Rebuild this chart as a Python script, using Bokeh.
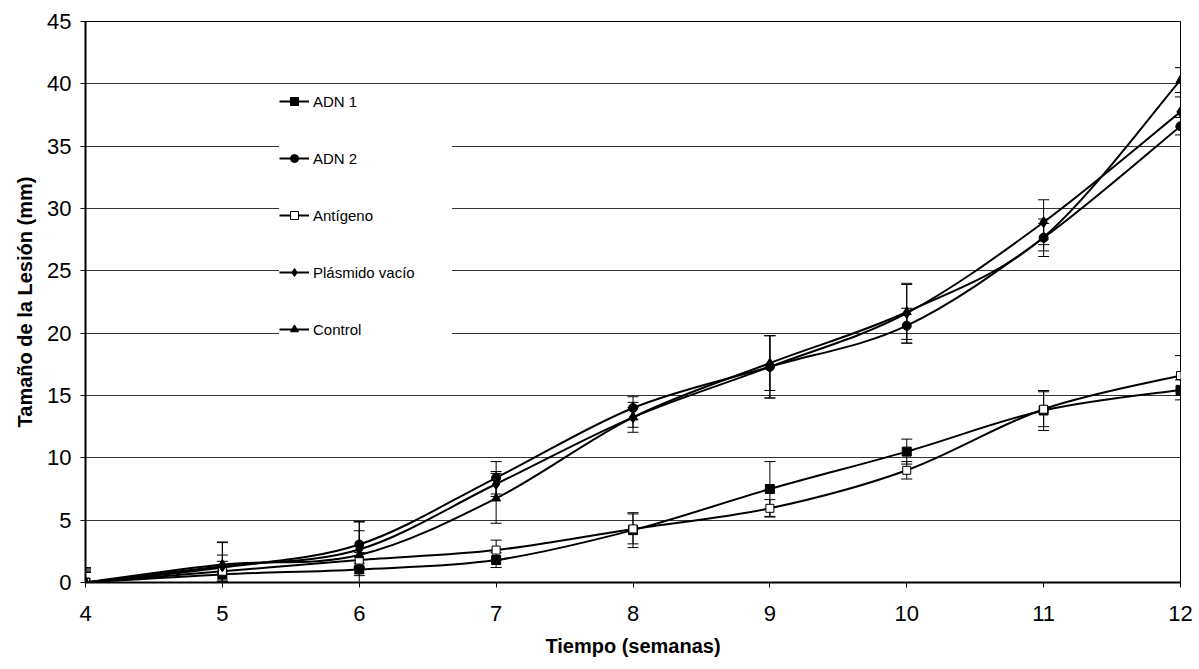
import numpy as np
from bokeh.plotting import figure
from bokeh.models import (ColumnDataSource, Whisker, TeeHead, Legend, LegendItem,
                          FixedTicker, Range1d)
from bokeh.embed import file_html
from bokeh.resources import INLINE

weeks = [4, 5, 6, 7, 8, 9, 10, 11, 12]
adn1 = [0, 0.65, 1.05, 1.8, 4.2, 7.5, 10.5, 13.8, 15.45]
adn2 = [0, 1.2, 3.05, 8.4, 14.0, 17.3, 20.6, 27.65, 36.6]
antigeno = [0, 0.9, 1.8, 2.6, 4.3, 5.95, 9.0, 13.9, 16.6]
plasmido = [0, 1.3, 2.65, 7.9, 13.25, 17.3, 21.6, 28.9, 37.75]
control = [0, 1.45, 2.2, 6.75, 13.25, 17.6, 21.7, 27.7, 40.3]

adn1_err = [1.0, 0.6, 0.5, 0.6, 1.4, 2.2, 1.0, 1.6, 0.8]
adn2_err = [0.9, 1.0, 1.8, 1.3, 0.9, 2.5, 1.4, 1.5, 0.7]
antigeno_err = [1.1, 0.8, 0.6, 0.8, 1.2, 0.7, 0.7, 1.4, 1.6]
plasmido_err = [0.8, 1.9, 1.5, 1.0, 0.8, 2.5, 2.4, 1.8, 1.2]
control_err = [1.2, 1.8, 2.7, 2.0, 1.2, 2.2, 2.2, 1.1, 1.0]

series = [
    ("ADN 1", adn1, adn1_err, "square", "black", 9),
    ("ADN 2", adn2, adn2_err, "circle", "black", 9),
    ("Antígeno", antigeno, antigeno_err, "square", "white", 8),
    ("Plásmido vacío", plasmido, plasmido_err, "diamond", "black", 11),
    ("Control", control, control_err, "triangle", "black", 9),
]

FONT = "Liberation Sans"

p = figure(width=1195, height=668, output_backend="svg", toolbar_location=None,
           x_range=Range1d(4, 12), y_range=Range1d(0, 45),
           min_border_left=85, min_border_right=15, min_border_top=21, min_border_bottom=86)
p.outline_line_color = "black"
p.outline_line_width = 1
p.background_fill_color = "white"
p.border_fill_color = "white"

p.xaxis.ticker = FixedTicker(ticks=weeks)
p.yaxis.ticker = FixedTicker(ticks=list(range(0, 46, 5)))
p.xgrid.visible = False
p.ygrid.grid_line_color = "#333333"
p.ygrid.grid_line_width = 1
for ax in (p.xaxis[0], p.yaxis[0]):
    ax.axis_line_color = "black"
    ax.axis_line_width = 2
    ax.major_tick_line_color = "black"
    ax.major_tick_line_width = 1
    ax.major_tick_out = 5
    ax.major_tick_in = 0
    ax.minor_tick_line_color = None
    ax.major_label_text_font = FONT
    ax.major_label_text_font_size = "22px"
    ax.major_label_text_color = "black"
    ax.axis_label_text_font = FONT
    ax.axis_label_text_font_style = "bold"
    ax.axis_label_text_font_size = "20px"
    ax.axis_label_text_color = "black"
p.xaxis.axis_label = "Tiempo (semanas)"
p.yaxis.axis_label = "Tamaño de la Lesión (mm)"
p.xaxis.major_label_standoff = 18
p.xaxis.axis_label_standoff = 11
p.yaxis.major_label_standoff = 9
p.yaxis.axis_label_standoff = 8

items = []
for name, ys, errs, marker, fill, size in series:
    x = np.array(weeks, dtype=float)
    y = np.array(ys, dtype=float)
    n = len(x)
    # smoothed rendering (Catmull-Rom style bezier through the data points)
    xp = np.concatenate([[x[0]], x, [x[-1]]])
    yp = np.concatenate([[y[0]], y, [y[-1]]])
    x0, y0 = x[:-1], y[:-1]
    x1, y1 = x[1:], y[1:]
    cx0 = x0 + (xp[2:n + 1] - xp[0:n - 1]) / 6.0
    cy0 = y0 + (yp[2:n + 1] - yp[0:n - 1]) / 6.0
    cx1 = x1 - (xp[3:n + 2] - xp[1:n]) / 6.0
    cy1 = y1 - (yp[3:n + 2] - yp[1:n]) / 6.0
    p.bezier(x0=x0, y0=y0, x1=x1, y1=y1, cx0=cx0, cy0=cy0, cx1=cx1, cy1=cy1,
             line_color="black", line_width=2)

    src = ColumnDataSource(dict(x=x, y=y, lo=y - np.array(errs), hi=y + np.array(errs)))
    w = Whisker(base="x", upper="hi", lower="lo", source=src, dimension="height",
                line_color="black", line_width=1,
                upper_head=TeeHead(size=11, line_color="black", line_width=1),
                lower_head=TeeHead(size=11, line_color="black", line_width=1))
    p.add_layout(w)

    # line renderer used only for the legend swatch (no visible data)
    lr = p.line(x=[np.nan], y=[np.nan], line_color="black", line_width=2)
    sr = p.scatter(x="x", y="y", source=src, marker=marker, size=size,
                   fill_color=fill, line_color="black", line_width=1)
    items.append(LegendItem(label=name, renderers=[lr, sr]))

legend = Legend(items=items, location=(194, 243), background_fill_color="white",
                background_fill_alpha=1.0, border_line_color=None,
                label_text_font=FONT, label_text_font_size="15px",
                label_text_color="black", glyph_width=30, glyph_height=20,
                label_height=20, spacing=37, padding=0, label_standoff=4,
                label_width=139, margin=0)
p.add_layout(legend, "center")

open("out.html", "w").write(file_html(p, INLINE))
